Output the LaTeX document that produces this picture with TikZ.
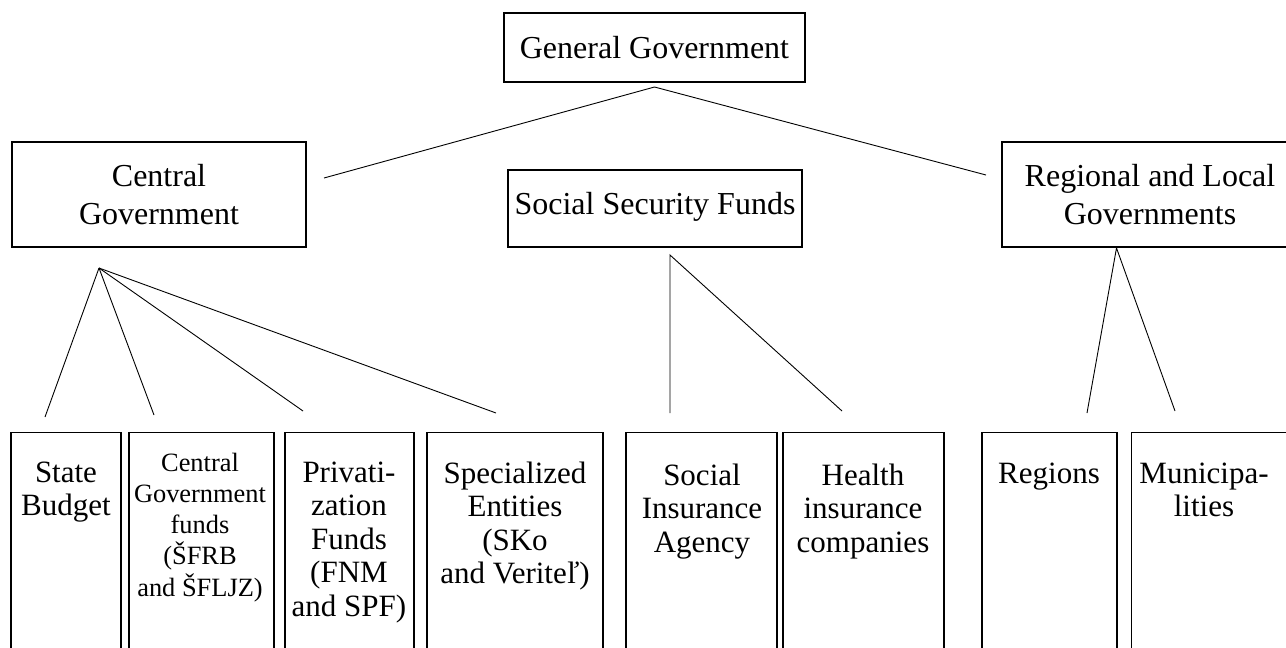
\documentclass[tikz,border=0pt]{standalone}
\usepackage{fontspec}
\setmainfont{Liberation Serif}
\newcommand{\mystack}[1]{\begin{tabular}[t]{@{}c@{}}#1\end{tabular}}
\begin{document}
\begin{tikzpicture}[x=1pt,y=-1pt,
  topbox/.style={draw, line width=1.1pt, rectangle, inner sep=0pt, align=center,
    font=\fontsize{32}{38}\selectfont},
  botbox/.style={draw, line width=1.1pt, rectangle, inner sep=0pt, anchor=north, minimum height=260pt},
  btxt/.style={anchor=base, inner sep=0pt, font=\fontsize{31}{33.5}\selectfont},
  stxt/.style={anchor=base, inner sep=0pt, font=\fontsize{26.4}{31}\selectfont},
  conn/.style={line width=0.9pt}]
\useasboundingbox (0,0) rectangle (1286,648);
\clip (0,0) rectangle (1286,648);

% top level boxes
\node[topbox, minimum width=301pt, minimum height=69pt] (gg) at (654.5,47.5) {General Government};
\node[topbox, minimum width=294pt, minimum height=105pt] (cg) at (159,194.5) {Central\\Government};
\node[topbox, minimum width=294pt, minimum height=77pt] (ssf) at (655,208.5) {};
\node[anchor=base, inner sep=0pt, font=\fontsize{32}{38}\selectfont] (ssft) at (655,214) {Social Security Funds};
\node[topbox, minimum width=296pt, minimum height=105pt] (rlg) at (1150,194.5) {Regional and Local\\Governments};

% bottom boxes
\node[botbox, minimum width=110pt] (sb) at (66,432) {};
\node[botbox, minimum width=145pt] (cgf) at (201.5,432) {};
\node[botbox, minimum width=129pt] (pf) at (349.5,432) {};
\node[botbox, minimum width=176pt] (se) at (515,432) {};
\node[botbox, minimum width=151pt] (sia) at (701.5,432) {};
\node[botbox, minimum width=161pt] (hic) at (863.5,432) {};
\node[botbox, minimum width=135pt] (reg) at (1049.5,432) {};
\node[botbox, minimum width=170pt, anchor=north west] (mun) at (1131,432) {};

% bottom texts
\node[btxt] (sbt) at (66,482) {\mystack{State\\Budget}};
\node[stxt] (cgft) at (200,471) {\mystack{Central\\Government\\funds\\(ŠFRB\\and ŠFLJZ)}};
\node[btxt] (pft) at (349,482) {\mystack{Privati-\\zation\\Funds\\(FNM\\and SPF)}};
\node[btxt] (set) at (515,483) {\mystack{Specialized\\Entities\\(SKo\\and Veriteľ)}};
\node[btxt] (siat) at (702,485) {\mystack{Social\\Insurance\\Agency}};
\node[btxt] (hict) at (863,485) {\mystack{Health\\insurance\\companies}};
\node[btxt] (regt) at (1049,483) {\mystack{Regions}};
\node[btxt] (munt) at (1204,483) {\mystack{Municipa-\\lities}};

% connector end points
\coordinate (gA) at (654.5,87);
\coordinate (gL) at (324,178);
\coordinate (gR) at (986,175);
\coordinate (cA) at (99,268);
\coordinate (c1) at (45,417);
\coordinate (c2) at (154,415);
\coordinate (c3) at (303,411);
\coordinate (c4) at (496,413);
\coordinate (sA) at (670,255);
\coordinate (s1) at (670,413);
\coordinate (s2) at (842,411);
\coordinate (rA) at (1116.5,248);
\coordinate (r1) at (1087,413);
\coordinate (r2) at (1175,411);

\draw[conn] (gL) -- (gA) -- (gR);
\draw[conn] (cA) -- (c1);
\draw[conn] (cA) -- (c2);
\draw[conn] (cA) -- (c3);
\draw[conn] (cA) -- (c4);
\draw[conn] (s1) -- (sA) -- (s2);
\draw[conn] (r1) -- (rA) -- (r2);
\end{tikzpicture}
\end{document}
